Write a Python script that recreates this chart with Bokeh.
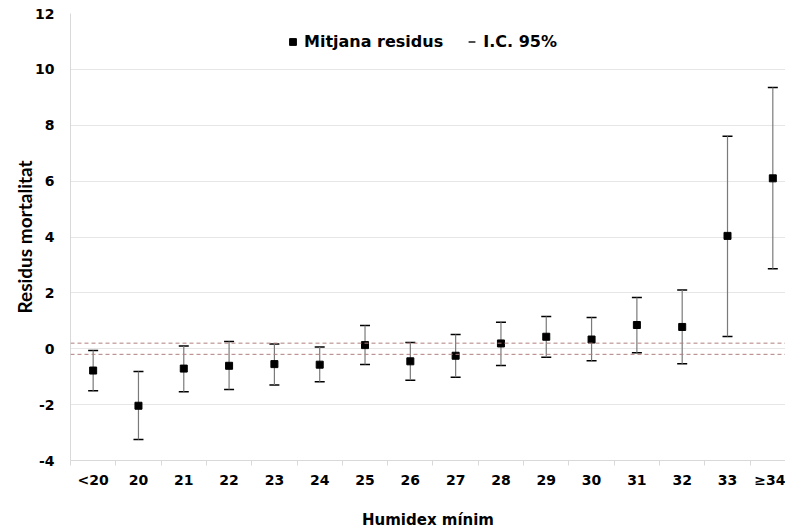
from bokeh.plotting import figure
from bokeh.models import (ColumnDataSource, FixedTicker, Range1d, Span, Legend, LegendItem, Whisker, TeeHead)
from bokeh.embed import file_html
from bokeh.resources import INLINE

categories = ["<20", "20", "21", "22", "23", "24", "25", "26", "27", "28", "29", "30", "31", "32", "33", "≥34"]
mean_resid = [-0.78, -2.04, -0.71, -0.61, -0.55, -0.57, 0.13, -0.45, -0.25, 0.19, 0.43, 0.33, 0.85, 0.78, 4.04, 6.10]
ci_upper = [-0.06, -0.81, 0.10, 0.26, 0.17, 0.06, 0.83, 0.22, 0.51, 0.95, 1.15, 1.12, 1.83, 2.10, 7.61, 9.35]
ci_lower = [-1.50, -3.25, -1.54, -1.46, -1.30, -1.18, -0.56, -1.13, -1.02, -0.60, -0.30, -0.43, -0.14, -0.54, 0.44, 2.86]
ref_band = [0.2, -0.2]
y_ticks = [-4, -2, 0, 2, 4, 6, 8, 10, 12]
y_tick_labels = ["-4", "-2", "0", "2", "4", "6", "8", "10", "12"]

xs = list(range(len(categories)))
src = ColumnDataSource(dict(x=xs, mean=mean_resid, up=ci_upper, lo=ci_lower))

p = figure(frame_width=715, frame_height=447, output_backend="svg", toolbar_location=None,
           x_range=Range1d(-0.5, 15.28), y_range=Range1d(-4, 12),
           min_border_left=70, min_border_right=0, min_border_top=13, min_border_bottom=60)
p.outline_line_color = None
p.background_fill_color = "white"

# grid
p.xgrid.grid_line_color = None
p.ygrid.grid_line_color = "#e6e6e6"
p.ygrid.grid_line_width = 1

# y axis
p.yaxis.ticker = FixedTicker(ticks=y_ticks)
p.yaxis.major_label_overrides = dict(zip(y_ticks, y_tick_labels))
p.yaxis.axis_line_color = "#d9d9d9"
p.yaxis.major_tick_line_color = None
p.yaxis.major_tick_out = 0
p.yaxis.minor_tick_line_color = None
p.yaxis.minor_tick_out = 0
p.yaxis.major_label_text_font = "DejaVu Sans"
p.yaxis.major_label_text_font_style = "bold"
p.yaxis.major_label_text_font_size = "14px"
p.yaxis.major_label_text_color = "#000000"
p.yaxis.major_label_standoff = 16
p.yaxis.axis_label = "Residus mortalitat"
p.yaxis.axis_label_text_font = "Lato"
p.yaxis.axis_label_text_font_style = "bold"
p.yaxis.axis_label_text_font_size = "19px"
p.yaxis.axis_label_text_color = "#000000"
p.yaxis.axis_label_standoff = -4

# x axis
boundaries = [i - 0.5 for i in range(len(categories) + 1)]
p.xaxis.ticker = FixedTicker(ticks=xs, minor_ticks=boundaries)
p.xaxis.major_label_overrides = {i: c for i, c in enumerate(categories)}
p.xaxis.axis_line_color = "#d9d9d9"
p.xaxis.axis_line_width = 1
p.xaxis.major_tick_line_color = None
p.xaxis.major_tick_out = 0
p.xaxis.minor_tick_line_color = "#d9d9d9"
p.xaxis.minor_tick_out = 5
p.xaxis.minor_tick_in = 0
p.xaxis.major_label_text_font = "DejaVu Sans"
p.xaxis.major_label_text_font_style = "bold"
p.xaxis.major_label_text_font_size = "14px"
p.xaxis.major_label_text_color = "#000000"
p.xaxis.major_label_standoff = 6
p.xaxis.axis_label = "Humidex mínim"
p.xaxis.axis_label_text_font = "DejaVu Sans"
p.xaxis.axis_label_text_font_style = "bold"
p.xaxis.axis_label_text_font_size = "15px"
p.xaxis.axis_label_text_color = "#000000"
p.xaxis.axis_label_standoff = 20

# reference dashed lines
for v in ref_band:
    p.add_layout(Span(location=v, dimension="width", line_color="#b07f7f",
                      line_dash="4 3", line_width=1))

# error bars
seg = p.segment(x0="x", y0="lo", x1="x", y1="up", source=src, line_color="#7a7a7a", line_width=1.2)
w = Whisker(base="x", upper="up", lower="lo", source=src, line_alpha=0,
            upper_head=TeeHead(size=10, line_color="#000000", line_width=1.5),
            lower_head=TeeHead(size=10, line_color="#000000", line_width=1.5))
p.add_layout(w)

pts = p.scatter(x="x", y="mean", source=src, marker="square", size=7,
                fill_color="#000000", line_color="#000000")

# hidden dash-marker renderer, used only for the CI legend symbol
leg_dash = p.scatter(x="x", y="mean", source=src, marker="dash", size=7,
                     line_color="#222222", line_width=1.6, visible=False)

legend = Legend(items=[LegendItem(label="Mitjana residus", renderers=[pts]),
                       LegendItem(label="I.C. 95%", renderers=[leg_dash])],
                orientation="horizontal", location=(214, 409),
                label_text_font="DejaVu Sans", label_text_font_style="bold",
                label_text_font_size="16px", label_text_color="#000000",
                glyph_width=17, glyph_height=17, label_standoff=3, spacing=20,
                inactive_fill_alpha=0,
                padding=0, margin=0, border_line_color=None, background_fill_alpha=0)
p.add_layout(legend)

open("out.html", "w").write(file_html(p, INLINE))
